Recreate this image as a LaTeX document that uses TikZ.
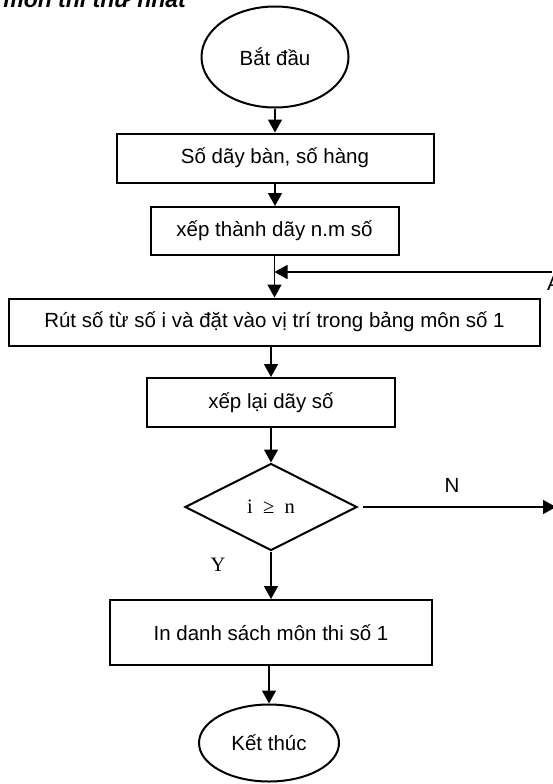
\documentclass[tikz,border=0pt]{standalone}
\usepackage{fontspec}
\setmainfont{Liberation Sans}
\newfontfamily\serifschrift{Liberation Serif}
\usetikzlibrary{arrows.meta,shapes.geometric}
\newcommand{\lbl}{\fontsize{20.5}{24}\selectfont}
\newcommand{\titel}{\fontsize{23}{27}\selectfont}
\tikzset{kasten/.style={draw,line width=2pt,rectangle,inner sep=0,font=\lbl},
  oval/.style={draw,line width=2pt,ellipse,inner sep=0,font=\lbl},
  raute/.style={draw,line width=2pt,diamond,inner sep=0,font=\lbl\serifschrift},
  pfeil/.style={line width=1.5pt,-{Triangle[length=13pt,width=14pt]}}}

\begin{document}
\begin{tikzpicture}[x=1pt,y=-1pt]
\useasboundingbox (0,0) rectangle (552,784);
\node[anchor=base east,inner sep=0,font=\titel\bfseries\itshape] (titel) at (186,8) {môn thi thứ nhất};
\node[oval,minimum width=147,minimum height=101] (start) at (275,57) {Bắt đầu};
\node[kasten,minimum width=317,minimum height=49] (zahl) at (275,158) {Số dãy bàn, số hàng};
\node[kasten,minimum width=248,minimum height=48] (reihe) at (274.5,231) {xếp thành dãy n.m số};
\node[kasten,minimum width=531,minimum height=47] (ziehen) at (274.5,322) {Rút số từ số i và đặt vào vị trí trong bảng môn số 1};
\node[kasten,minimum width=248,minimum height=49] (neu) at (271,402.5) {xếp lại dãy số};
\node[raute,minimum width=172,minimum height=87] (frage) at (271,507) {i~~≥~~n};
\node[kasten,minimum width=322,minimum height=65] (liste) at (271,632.5) {In danh sách môn thi số 1};
\node[oval,minimum width=140,minimum height=77] (ende) at (269,743) {Kết thúc};
% Hauptfluss
\draw[pfeil] (start.south) -- (start.south |- zahl.north);
\draw[pfeil] (zahl.south) -- (zahl.south |- reihe.north);
\draw[pfeil] (reihe.south) -- (reihe.south |- ziehen.north);
\draw[pfeil] (neu.north |- ziehen.south) -- (neu.north);
\draw[pfeil] (neu.south) -- (neu.south |- frage.north);
\draw[pfeil] (frage.south) -- (frage.south |- liste.north);
\draw[pfeil] (ende.north |- liste.south) -- (ende.north);
% Rueckfuehrung und Nein-Zweig
\coordinate (rueckein) at (552,272);
\coordinate (rueckziel) at (274.5,272);
\draw[pfeil] (rueckein) -- (rueckziel);
\node[anchor=base west,inner sep=0,font=\lbl] (marke) at (547,290) {A};
\coordinate (nein) at (556,507);
\draw[pfeil,shorten <=5pt] (frage) -- (nein);
\node[inner sep=0,font=\lbl] (nlabel) at (452,485) {N};
\node[inner sep=0,font=\lbl\serifschrift] (ylabel) at (218,565) {Y};
\end{tikzpicture}
\end{document}
